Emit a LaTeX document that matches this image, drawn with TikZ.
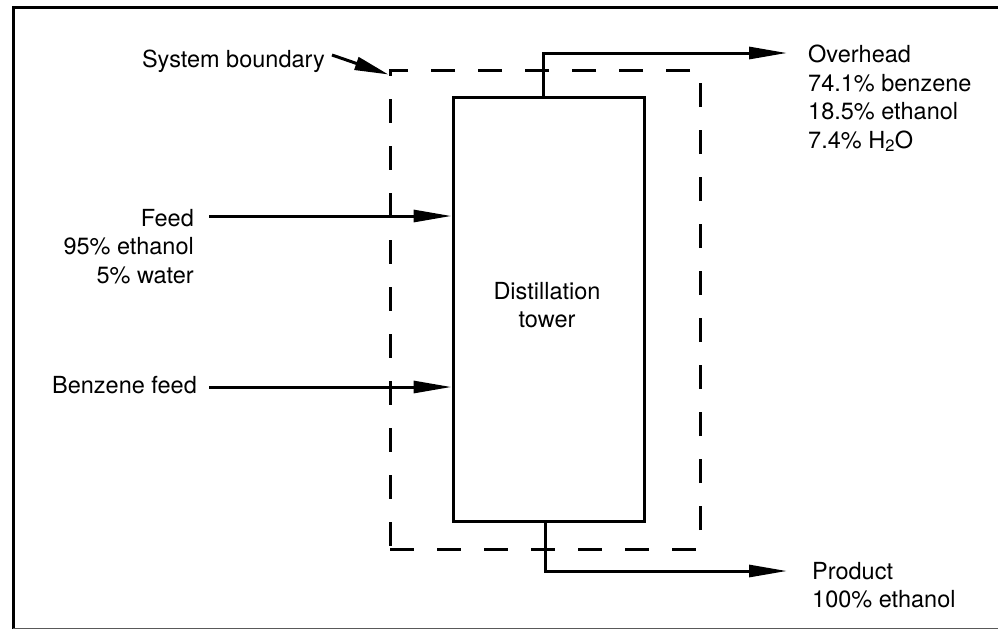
\documentclass[tikz,border=0pt]{standalone}
\usepackage{fontspec}
\setmainfont{TeX Gyre Heros}
\usetikzlibrary{arrows.meta,calc}
\begin{document}
\begin{tikzpicture}[x=1pt,y=-1pt,
  lbl/.style={font=\fontsize{23.5}{28.5}\selectfont, inner sep=0pt},
  flow/.style={line width=3pt, -{Triangle[length=38pt,width=12pt]}},
  pointer/.style={line width=3pt, -{Triangle[length=34pt,width=13pt]}},
  towerbox/.style={draw, line width=3pt, inner sep=0pt},
  bound/.style={draw, line width=3pt, dash pattern=on 24pt off 23pt, inner sep=0pt}]
\useasboundingbox (0,0) rectangle (998,630);
% frame
\draw[line width=3pt] (998,7) -- (13,7) -- (13,629);
\draw[line width=1.4pt, black!65] (13,628.5) -- (998,628.5);
% main shapes
\node[towerbox, minimum width=191pt, minimum height=424pt] (tower) at (548.5,309) {};
\node[bound, minimum width=310pt, minimum height=479pt] (boundary) at (545,309.5) {};
\node[lbl, align=center] (towerlbl) at (547,305) {Distillation\\tower};
% labels
\node[lbl, anchor=base east] (sysb) at (325,67) {System boundary};
\node[lbl, anchor=north west, align=left] (oh) at (808,45) {Overhead\\74.1\% benzene\\18.5\% ethanol\\7.4\% H\textsubscript{2}O};
\node[lbl, anchor=north east, align=right] (feed) at (194,209) {Feed\\95\% ethanol\\5\% water};
\node[lbl, anchor=base east] (benz) at (197,393) {Benzene feed};
\node[lbl, anchor=north west, align=left] (prod) at (812,562) {Product\\100\% ethanol};
% connectors
\coordinate (sysbstart) at (332,55);
\draw[pointer] (sysbstart) -- ($(boundary.north west)+(0,6)$);
\coordinate (feedstart) at (209,216);
\draw[flow] (feedstart) -- (feedstart -| tower.west);
\coordinate (benzstart) at (209,387);
\draw[flow] (benzstart) -- (benzstart -| tower.west);
\coordinate (ohcorner) at (543,53);
\coordinate (ohend) at (787,53);
\draw[flow] (ohcorner |- tower.north) -- (ohcorner) -- (ohend);
\coordinate (prcorner) at (545,571);
\coordinate (prend) at (787,571);
\draw[flow] (prcorner |- tower.south) -- (prcorner) -- (prend);
\end{tikzpicture}
\end{document}
